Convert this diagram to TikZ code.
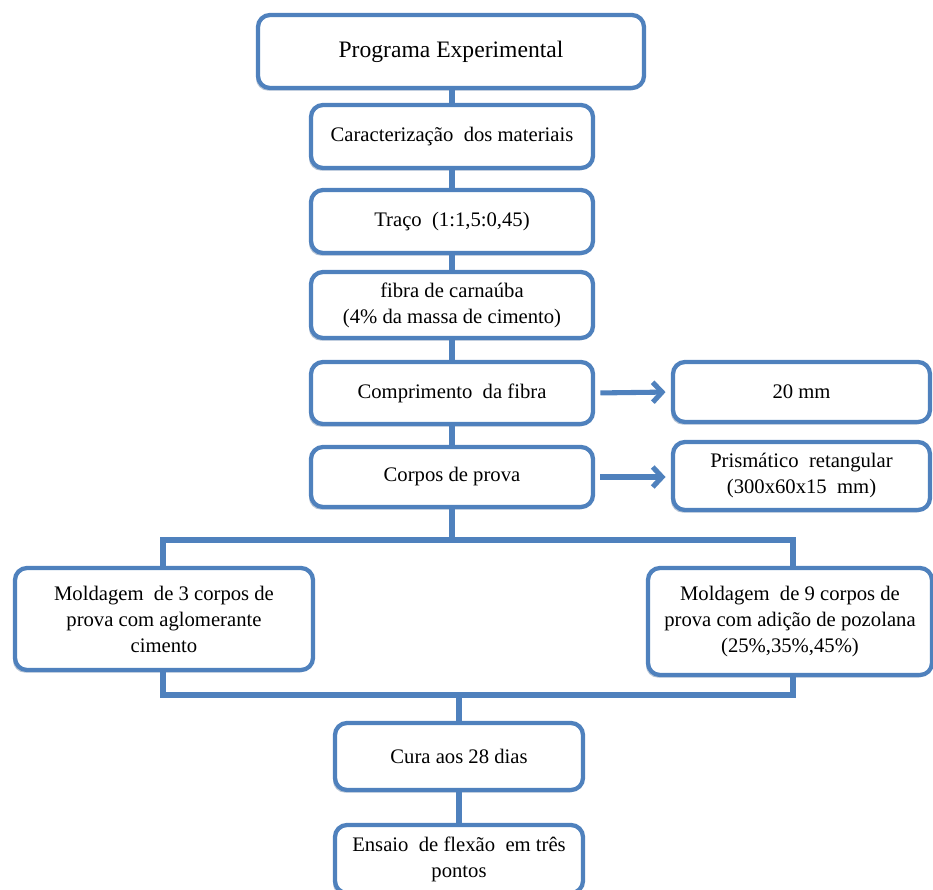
\documentclass[tikz,border=0pt]{standalone}
\usepackage{fontspec}
\setmainfont{Liberation Serif}
\usetikzlibrary{arrows.meta,shadows}
\definecolor{boxblue}{HTML}{4F81BD}
\definecolor{shadowblue}{HTML}{385D8A}
\tikzset{
  flowbox/.style={draw=boxblue, line width=3.2pt, rounded corners=9pt, fill=white,
    align=center, inner sep=2pt,
    font=\fontsize{15.5}{19.5}\selectfont,
    drop shadow={shadow xshift=-1.5pt, shadow yshift=-2pt, opacity=0.35, fill=shadowblue}},
  link/.style={draw=boxblue, line width=3.8pt},
  arrowlink/.style={draw=boxblue, line width=3.8pt, -{Straight Barb[length=7pt,width=15pt,line width=3.8pt]}, shorten <=4pt, shorten >=4pt}
}
\begin{document}
\begin{tikzpicture}[x=0.75pt,y=-0.75pt]
\useasboundingbox (0,0) rectangle (933,890);
\node[flowbox, minimum width=386*0.75pt, minimum height=73*0.75pt, font=\fontsize{17.7}{21}\selectfont] (prog) at (451,51.5) {Programa Experimental};
\node[flowbox, minimum width=282*0.75pt, minimum height=63*0.75pt] (car) at (452,136.5) {Caracterização\ \ dos materiais};
\node[flowbox, minimum width=282*0.75pt, minimum height=63*0.75pt] (traco) at (452,221.5) {Traço\ \ (1:1,5:0,45)};
\node[flowbox, minimum width=282*0.75pt, minimum height=66*0.75pt] (fibra) at (452,305) {fibra de carnaúba\\(4\% da massa de cimento)};
\node[flowbox, minimum width=282*0.75pt, minimum height=62*0.75pt] (comp) at (452,393) {Comprimento\ \ da fibra};
\node[flowbox, minimum width=282*0.75pt, minimum height=60*0.75pt] (corpos) at (452,477) {Corpos de prova};
\node[flowbox, minimum width=257*0.75pt, minimum height=60*0.75pt] (mm) at (801.5,392) {20 mm};
\node[flowbox, minimum width=257*0.75pt, minimum height=68*0.75pt] (prism) at (801.5,476) {Prismático\ \ retangular\\(300x60x15\ \ mm)};
\node[flowbox, minimum width=298*0.75pt, minimum height=102*0.75pt] (left) at (164,619) {Moldagem\ \ de 3 corpos de\\prova com aglomerante\\cimento};
\node[flowbox, minimum width=284*0.75pt, minimum height=107*0.75pt] (right) at (790,621.5) {Moldagem\ \ de 9 corpos de\\prova com adição de pozolana\\(25\%,35\%,45\%)};
\node[flowbox, minimum width=248*0.75pt, minimum height=67*0.75pt] (cura) at (459,756.5) {Cura aos 28 dias};
\node[flowbox, minimum width=248*0.75pt, minimum height=68*0.75pt] (ensaio) at (459,859) {Ensaio\ \ de flexão\ \ em três\\pontos};

\coordinate (splitc) at (452,540);
\coordinate (splitl) at (163,540);
\coordinate (splitr) at (793,540);
\coordinate (joinl) at (163,695);
\coordinate (joinr) at (793,695);
\coordinate (joinc) at (459,695);

\draw[link] (prog.south -| car) -- (car.north);
\draw[link] (car) -- (traco);
\draw[link] (traco.south) -- (fibra.north);
\draw[link] (fibra.south) -- (comp.north);
\draw[link] (comp.south) -- (corpos.north);
\draw[link] (corpos.south) -- (splitc);
\draw[link] (splitl |- left.north) -- (splitl) -- (splitr) -- (splitr |- right.north);
\draw[link] (joinl |- left.south) -- (joinl) -- (joinr) -- (joinr |- right.south);
\draw[link] (joinc) -- (cura.north);
\draw[link] (cura.south) -- (ensaio.north);
\draw[arrowlink] (comp.east) -- (mm.west);
\draw[arrowlink] (corpos.east) -- (corpos.east -| prism.west);
\end{tikzpicture}
\end{document}
